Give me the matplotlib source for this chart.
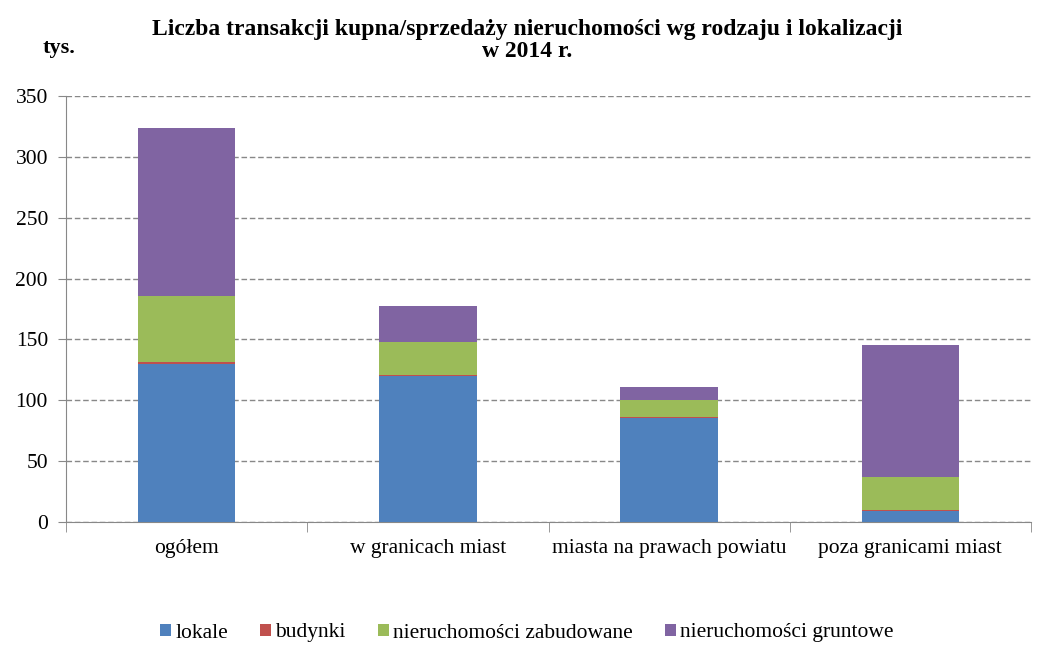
import matplotlib
matplotlib.use("Agg")
import matplotlib.pyplot as plt
import numpy as np

categories = ["ogółem", "w granicach miast", "miasta na prawach powiatu", "poza granicami miast"]
series_names = ["lokale", "budynki", "nieruchomości zabudowane", "nieruchomości gruntowe"]
lokale = [130.2, 120.0, 85.7, 9.3]
budynki = [1.5, 0.4, 0.2, 0.8]
zabudowane = [54.0, 27.8, 14.1, 26.9]
gruntowe = [138.0, 29.1, 11.2, 108.4]
colors = ["#4F81BD", "#C0504D", "#9BBB59", "#8064A2"]
yticks = [0, 50, 100, 150, 200, 250, 300, 350]

plt.rcParams['font.family'] = ['Liberation Serif', 'DejaVu Serif']

fig = plt.figure(figsize=(10.54, 6.45), dpi=100)
ax = fig.add_axes([66/1054, 1-522/645, (1031-66)/1054, (522-96)/645])

x = np.arange(len(categories))
bottom = np.zeros(len(categories))
for name, vals, c in zip(series_names, [lokale, budynki, zabudowane, gruntowe], colors):
    ax.bar(x, vals, 0.405, bottom=bottom, color=c, label=name, zorder=3)
    bottom += np.array(vals)

ax.set_xlim(-0.5, len(categories) - 0.5)
ax.set_ylim(0, 350)
ax.set_yticks(yticks)
ax.set_yticklabels([str(v) for v in yticks], fontsize=15.5)
ax.set_xticks(x)
ax.set_xticklabels(categories, fontsize=15.5)
ax.tick_params(axis='x', length=0, pad=12)
ax.set_xticks(np.arange(len(categories) + 1) - 0.5, minor=True)
ax.tick_params(axis='x', which='minor', length=7, color='#888888', direction='out')
ax.tick_params(axis='y', length=6, color='#888888', direction='out', pad=7)
ax.grid(axis='y', linestyle=(0, (4, 2)), color='#888888', linewidth=1, zorder=0)
for s in ['top', 'right']:
    ax.spines[s].set_visible(False)
for s in ['left', 'bottom']:
    ax.spines[s].set_color('#888888')

fig.text(0.5, 1-35/645, "Liczba transakcji kupna/sprzedaży nieruchomości wg rodzaju i lokalizacji",
         ha='center', va='baseline', fontsize=17, fontweight='bold')
fig.text(0.5, 1-57/645, "w 2014 r.",
         ha='center', va='baseline', fontsize=17, fontweight='bold')
fig.text(59/1054, 1-53/645, "tys.", ha='center', va='baseline', fontsize=16, fontweight='bold')

fig.legend(loc='center', bbox_to_anchor=(0.5, 1-633/645), ncol=4, frameon=False, fontsize=15.5,
           handlelength=0.5, handleheight=0.5, handletextpad=0.2, columnspacing=1.5)

fig.savefig("out.png", dpi=100)
